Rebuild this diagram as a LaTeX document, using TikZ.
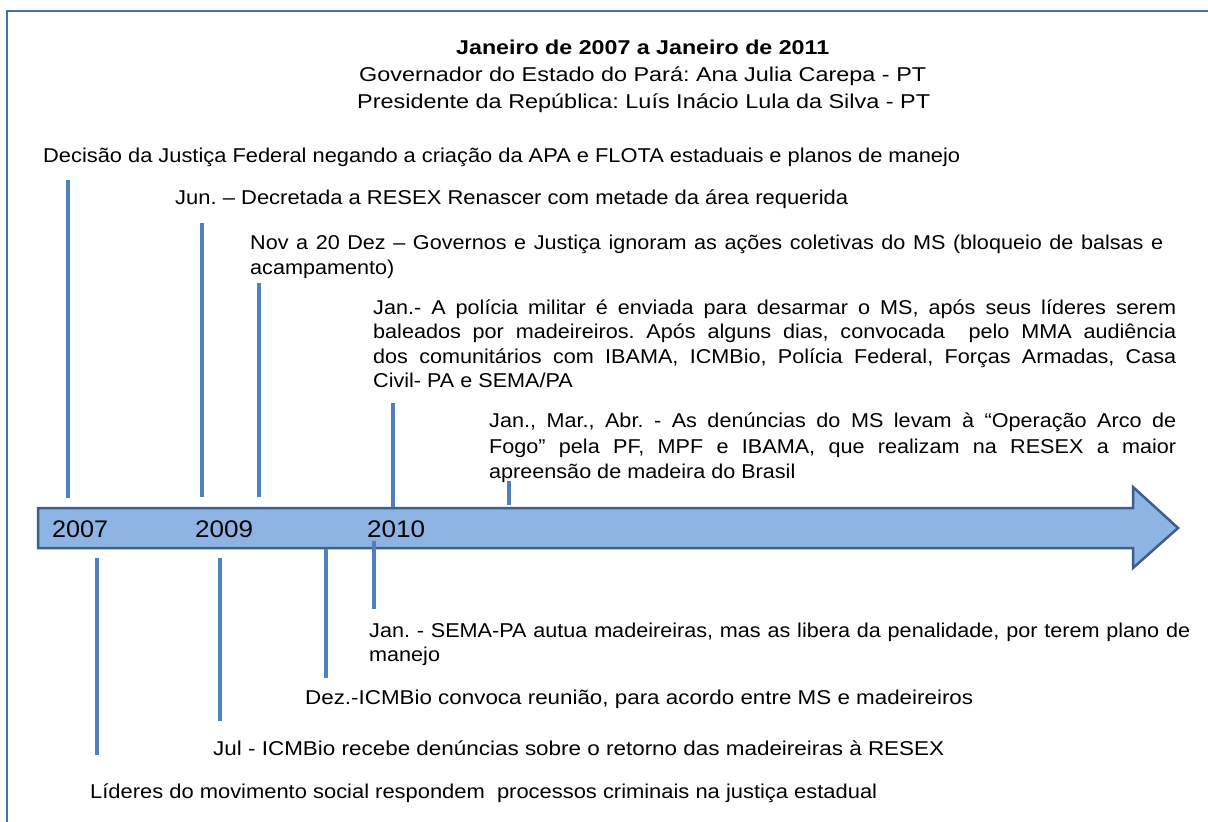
\documentclass[tikz,border=0pt]{standalone}
\usepackage{fontspec}
\setmainfont{Liberation Sans}[FakeStretch=1.08]
\usepackage{graphicx}
\definecolor{frameblue}{HTML}{4A6FA5}
\definecolor{arrowfill}{HTML}{8EB4E3}
\definecolor{arrowline}{HTML}{3C5F8E}
\definecolor{tickblue}{HTML}{4F81BD}
\newlength\jlen
\newcommand\fitline[2]{\resizebox{#1}{\height}{#2}}
\newcommand\jline[2]{\settowidth\jlen{#2}\ifdim\jlen>#1\relax\resizebox{#1}{\height}{#2}\else\makebox[#1][s]{#2}\fi}
\frenchspacing
\begin{document}
\begin{tikzpicture}[x=1pt,y=-1pt,
  txt/.style={inner sep=0pt, anchor=base west, font=\fontsize{20}{24}\selectfont\frenchspacing},
  yr/.style={inner sep=0pt, anchor=base west, font=\fontsize{24}{28}\selectfont},
  tick/.style={draw=tickblue, line width=4pt}]
\useasboundingbox (0,0) rectangle (1208,822);
\draw[frameblue, line width=2pt] (7,11) rectangle (1240,850);
% timeline arrow
\draw[arrowline, fill=arrowfill, line width=2.5pt, line join=miter]
  (38,508) -- (1133,508) -- (1133,487) -- (1178,528) -- (1133,568) -- (1133,548) -- (38,548) -- cycle;
% title
\node[txt] (ti1) at (456,54) {\fitline{373pt}{\textbf{Janeiro de 2007 a Janeiro de 2011}}};
\node[txt] (ti2) at (359,81) {\fitline{567pt}{Governador do Estado do Pará: Ana Julia Carepa - PT}};
\node[txt] (ti3) at (357,108) {\fitline{573pt}{Presidente da República: Luís Inácio Lula da Silva - PT}};
% upper events
\node[txt] (e1) at (43,162) {\fitline{917pt}{Decisão da Justiça Federal negando a criação da APA e FLOTA estaduais e planos de manejo}};
\node[txt] (e2) at (175,204) {\fitline{673pt}{Jun. – Decretada a RESEX Renascer com metade da área requerida}};
\node[txt] (e3a) at (250,249) {\jline{913pt}{Nov a 20 Dez – Governos e Justiça ignoram as ações coletivas do MS (bloqueio de balsas e}};
\node[txt] (e3b) at (250,274) {acampamento)};
\node[txt] (e4a) at (373,314) {\jline{803pt}{Jan.- A polícia militar é enviada para desarmar o MS, após seus líderes serem}};
\node[txt] (e4b) at (373,338) {\jline{803pt}{baleados por madeireiros. Após alguns dias, convocada \ pelo MMA audiência}};
\node[txt] (e4c) at (373,363) {\jline{803pt}{dos comunitários com IBAMA, ICMBio, Polícia Federal, Forças Armadas, Casa}};
\node[txt] (e4d) at (373,387) {Civil- PA e SEMA/PA};
\node[txt] (e5a) at (489,427) {\jline{687pt}{Jan., Mar., Abr. - As denúncias do MS levam à “Operação Arco de}};
\node[txt] (e5b) at (489,453) {\jline{687pt}{Fogo” pela PF, MPF e IBAMA, que realizam na RESEX a maior}};
\node[txt] (e5c) at (489,478) {apreensão de madeira do Brasil};
% years
\node[yr] (y2007) at (52,537) {\fitline{56pt}{2007}};
\node[yr] (y2009) at (195,537) {\fitline{58pt}{2009}};
\node[yr] (y2010) at (367,537) {\fitline{58pt}{2010}};
% lower events
\node[txt] (b1a) at (369,637) {\jline{821pt}{Jan. - SEMA-PA autua madeireiras, mas as libera da penalidade, por terem plano de}};
\node[txt] (b1b) at (369,661) {manejo};
\node[txt] (b2) at (305,704) {\fitline{668pt}{Dez.-ICMBio convoca reunião, para acordo entre MS e madeireiros}};
\node[txt] (b3) at (213,755) {\fitline{731pt}{Jul - ICMBio recebe denúncias sobre o retorno das madeireiras à RESEX}};
\node[txt] (b4) at (90,798) {\fitline{787pt}{Líderes do movimento social respondem \ processos criminais na justiça estadual}};
% tick coordinates
\coordinate (u1s) at (68,180);  \coordinate (u1e) at (68,498);
\coordinate (u2s) at (202,223); \coordinate (u2e) at (202,497);
\coordinate (u3s) at (259,283); \coordinate (u3e) at (259,497);
\coordinate (u4s) at (393,403); \coordinate (u4e) at (393,507);
\coordinate (u5s) at (509,481); \coordinate (u5e) at (509,505);
\coordinate (l1s) at (97,558);  \coordinate (l1e) at (97,755);
\coordinate (l2s) at (220,558); \coordinate (l2e) at (220,721);
\coordinate (l3s) at (326,549); \coordinate (l3e) at (326,678);
\coordinate (l4s) at (374,541); \coordinate (l4e) at (374,609);
\foreach \a/\b in {u1s/u1e,u2s/u2e,u3s/u3e,u4s/u4e,u5s/u5e,l1s/l1e,l2s/l2e,l3s/l3e,l4s/l4e}
  \draw[tick] (\a) -- (\b);
\end{tikzpicture}
\end{document}
